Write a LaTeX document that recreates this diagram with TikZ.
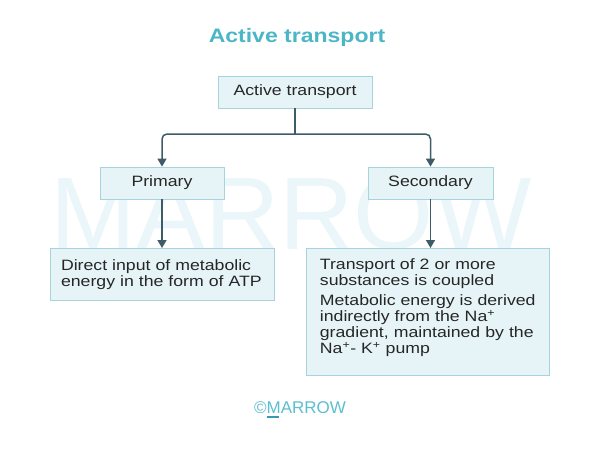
\documentclass[tikz,border=0pt]{standalone}
\usepackage{fontspec}
\setmainfont{Liberation Sans}[FakeStretch=1.18]
\newfontfamily\marksans{Liberation Sans}
\usetikzlibrary{arrows.meta,
positioning}
\definecolor{boxfill}{HTML}{E7F4F7}
\definecolor{boxline}{HTML}{A6D4DC}
\definecolor{linkcol}{HTML}{3E5C68}
\definecolor{titlecol}{HTML}{4AB6C6}
\definecolor{wmark}{HTML}{EAF6F9}
\definecolor{logocol}{HTML}{5CBED0}
\definecolor{logoline}{HTML}{3A97B0}

\begin{document}
\begin{tikzpicture}[
  x=1pt, y=-1pt,
  every node/.style={font=\fontsize{15}{16}\selectfont, text=black!85},
  level/.style={draw=boxline, fill=boxfill, line width=0.8pt, inner sep=0pt},
  link/.style={draw=linkcol, line width=1.5pt, -{Triangle[width=9pt,length=8pt]}}
]

  \useasboundingbox (0,0) rectangle (600,450);

  % watermark
  \node [
    font=\marksans\fontsize{103}{103}\selectfont,
    text=wmark] (wm) at (291,214) {MARROW};

  \node [
    font=\bfseries\fontsize{19.5}{20}\selectfont,
    text=titlecol] (title) at (297,37) {Active transport};

  \node [
    level,
    minimum width = 154pt,
    minimum height = 32pt] (top) at (295,92) {Active transport};
  \node [
    level,
    minimum width = 124pt,
    minimum height = 32pt] (prim) at (162,183) {Primary};
  \node [
    level,
    minimum width = 125pt,
    minimum height = 32pt] (sec) at (430.5,183) {Secondary};
  \node [
    level,
    align=left,
    text width = 202pt,
    inner xsep = 11pt,
    minimum height = 52pt,
    anchor=north] (direct) at (162,248)
    {Direct input of metabolic\\ energy in the form of ATP};
  \node [
    level,
    align=left,
    text width = 216pt,
    inner xsep = 13.5pt,
    minimum height = 127pt,
    anchor=north west] (indirect) at (306,248)
    {Transport of 2 or more\\ substances is coupled\par\vspace{4pt}
     Metabolic energy is derived\\ indirectly from the Na\textsuperscript{+}\\
     gradient, maintained by the\\ Na\textsuperscript{+}- K\textsuperscript{+} pump\par\vspace{9pt}};

  \coordinate (split) at (295,134);
  \draw [draw=linkcol, line width=1.5pt] (top.south) -- (split);
  \draw [link, rounded corners=5pt] (split) -| (prim.north);
  \draw [link, rounded corners=5pt] (split) -| (sec.north);
  \draw [link] (prim.south) -- (prim.south |- direct.north);
  \draw [link] (sec.south) -- (sec.south |- indirect.north);

  \node [
    font=\marksans\fontsize{17}{17}\selectfont,
    text=logocol] (logo) at (300,410)
    {©\rlap{\color{logoline}\rule[-4pt]{12pt}{1.5pt}}MARROW};

\end{tikzpicture}
\end{document}
